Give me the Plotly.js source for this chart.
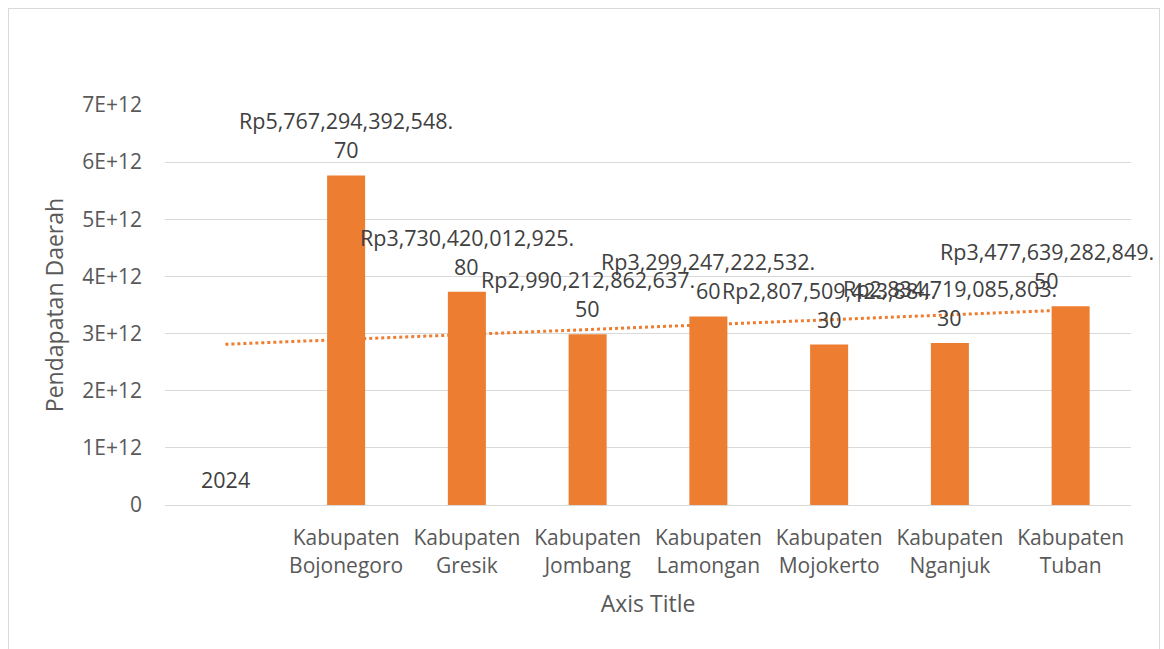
<!DOCTYPE html>
<html>
<head>
<meta charset="utf-8">
<script src="https://cdn.plot.ly/plotly-3.0.1.min.js"></script>
<style>
  html, body { margin: 0; padding: 0; background: #fff; }
  #chart { width: 1164px; height: 649px; position: absolute; left: 0; top: 0; }
  #frame { position: absolute; left: 8px; top: 8px; width: 1150px; height: 660px; border: 1px solid #d9d9d9; pointer-events: none; }
</style>
</head>
<body>
<div id="chart"></div>
<div id="frame"></div>
<script>
// ---- data ----
const categories = ["", "Kabupaten<br>Bojonegoro", "Kabupaten<br>Gresik", "Kabupaten<br>Jombang",
  "Kabupaten<br>Lamongan", "Kabupaten<br>Mojokerto", "Kabupaten<br>Nganjuk", "Kabupaten<br>Tuban"];
const values = [2024, 5767294392548.70, 3730420012925.80, 2990212862637.50,
  3299247222532.60, 2807509423884.30, 2834719085803.30, 3477639282849.50];
const yTickVals = [0, 1e12, 2e12, 3e12, 4e12, 5e12, 6e12, 7e12];
const yTickText = ["0", "1E+12", "2E+12", "3E+12", "4E+12", "5E+12", "6E+12", "7E+12"];
const yTitle = "Pendapatan Daerah";
const xTitle = "Axis Title";

// ---- helpers ----
const xs = categories.map((c, i) => i);
function fmtRp(v) {
  const s = v.toFixed(2);
  const [ip, dp] = s.split(".");
  const grouped = ip.replace(/\B(?=(\d{3})+(?!\d))/g, ",");
  return ["Rp" + grouped + ".", dp];
}
// linear trendline (least squares, like Excel's linear trendline)
const n = xs.length;
const mx = xs.reduce((a, b) => a + b, 0) / n;
const my = values.reduce((a, b) => a + b, 0) / n;
let sxy = 0, sxx = 0;
for (let i = 0; i < n; i++) { sxy += (xs[i] - mx) * (values[i] - my); sxx += (xs[i] - mx) ** 2; }
const slope = sxy / sxx, intercept = my - slope * mx;
const trendX = [xs[0], xs[n - 1]];
const trendY = trendX.map(x => intercept + slope * x);

const FONT = "Open Sans, Noto Sans, sans-serif";
const LBL = { family: FONT, size: 21.5, color: "#404040" };
const annotations = [];
values.forEach((v, i) => {
  // the last label is nudged left so it stays inside the chart frame (as Excel does)
  const xshift = (i === n - 1) ? -24 : 0;
  if (i === 0) {
    annotations.push({ x: xs[i], y: v, xref: "x", yref: "y", text: String(v), showarrow: false,
      yanchor: "bottom", yshift: 9, xshift: xshift, font: LBL });
  } else {
    const [l1, l2] = fmtRp(v);
    annotations.push({ x: xs[i], y: v, xref: "x", yref: "y", text: l1, showarrow: false,
      yanchor: "bottom", yshift: 38, xshift: xshift, font: LBL });
    annotations.push({ x: xs[i], y: v, xref: "x", yref: "y", text: l2, showarrow: false,
      yanchor: "bottom", yshift: 9, xshift: xshift, font: LBL });
  }
});

const traces = [
  { type: "bar", x: xs, y: values, marker: { color: "#ed7d31" }, hoverinfo: "none", cliponaxis: false },
  { type: "scatter", mode: "lines", x: trendX, y: trendY,
    line: { color: "#ed7d31", width: 3, dash: "dot" }, hoverinfo: "none" }
];

const layout = {
  width: 1164, height: 649,
  margin: { l: 165, r: 33, t: 105, b: 144 },
  paper_bgcolor: "#ffffff", plot_bgcolor: "#ffffff",
  showlegend: false,
  bargap: 0.685,
  font: { family: FONT, size: 21, color: "#595959" },
  xaxis: {
    range: [-0.5, 7.5], tickmode: "array", tickvals: xs, ticktext: categories,
    showgrid: false, zeroline: false, showline: true, linecolor: "#d9d9d9", linewidth: 1,
    ticks: "", ticklabelstandoff: 14, tickfont: { family: FONT, size: 21, color: "#595959" },
    title: { text: xTitle, font: { family: FONT, size: 23, color: "#595959" }, standoff: 18 }
  },
  yaxis: {
    range: [0, 7e12], tickmode: "array", tickvals: yTickVals, ticktext: yTickText,
    showgrid: true, gridcolor: "#d9d9d9", gridwidth: 1, zeroline: false, showline: false,
    ticks: "", ticklabelstandoff: 22, tickfont: { family: FONT, size: 21, color: "#595959" },
    title: { text: yTitle, font: { family: FONT, size: 23, color: "#595959" }, standoff: 12 }
  },
  annotations: annotations
};

Plotly.newPlot("chart", traces, layout, { staticPlot: true });
</script>
</body>
</html>
